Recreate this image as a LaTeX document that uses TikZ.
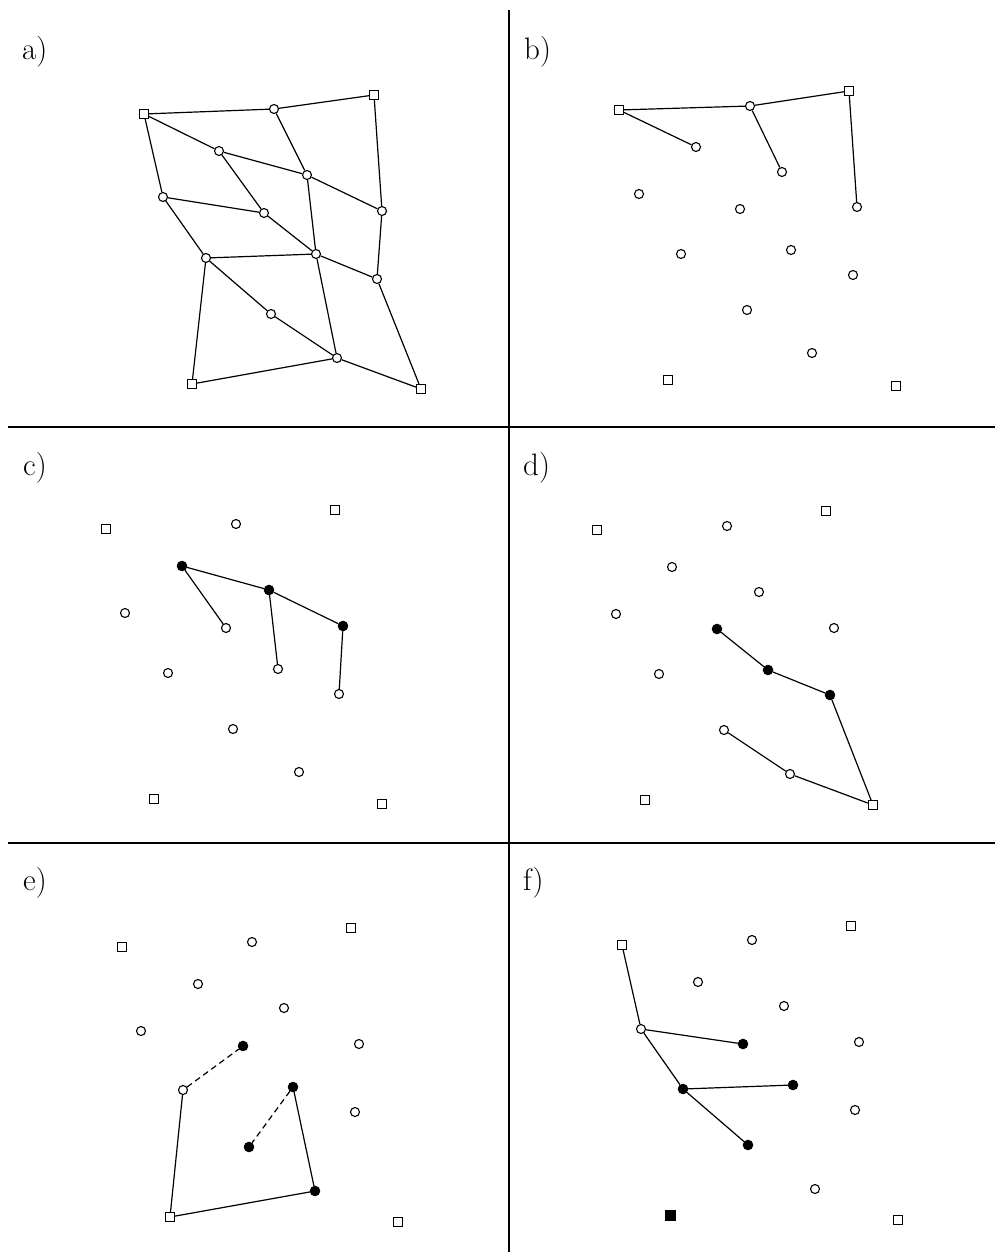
\documentclass[tikz,border=0pt]{standalone}
\begin{document}
\begin{tikzpicture}[x=1pt,y=-1pt,
  oc/.style={circle,draw,fill=white,line width=1.1pt,inner sep=0pt,minimum size=9pt},
  fc/.style={circle,draw,fill=black,line width=1pt,inner sep=0pt,minimum size=9.5pt},
  sq/.style={rectangle,draw,fill=white,line width=1.1pt,inner sep=0pt,minimum size=9pt},
  fsq/.style={rectangle,draw,fill=black,line width=1pt,inner sep=0pt,minimum size=10pt},
  ed/.style={line width=1.2pt},
  dd/.style={line width=1.2pt,dash pattern=on 6pt off 4pt},
  divider/.style={line width=2pt},
  lab/.style={anchor=base west,inner sep=0pt,font=\fontsize{31}{36}\selectfont}]
\path[fill=white] (0,0) rectangle (995,1252);
\useasboundingbox (0,0) rectangle (995,1252);
% dividers
\coordinate (vt) at (509,10);
\coordinate (vb) at (509,1252);
\coordinate (h1l) at (8,427);
\coordinate (h1r) at (995,427);
\coordinate (h2l) at (8,843);
\coordinate (h2r) at (995,843);
\draw[divider] (vt) -- (vb);
\draw[divider] (h1l) -- (h1r);
\draw[divider] (h2l) -- (h2r);
% labels
\node[lab] (la) at (22,60) {a)};
\node[lab] (lb) at (524,60) {b)};
\node[lab] (lc) at (23,475) {c)};
\node[lab] (ld) at (523,475) {d)};
\node[lab] (le) at (23,890) {e)};
\node[lab] (lf) at (523,890) {f)};
% ---------- panel a
\node[sq] (aS1) at (144,114) {};
\node[sq] (aS2) at (374,95) {};
\node[sq] (aS3) at (192,384) {};
\node[sq] (aS4) at (421,389) {};
\node[oc] (a1) at (274,109) {};
\node[oc] (a2) at (219,151) {};
\node[oc] (a3) at (307,175) {};
\node[oc] (a4) at (163,197) {};
\node[oc] (a5) at (264,213) {};
\node[oc] (a6) at (382,211) {};
\node[oc] (a7) at (206,258) {};
\node[oc] (a8) at (316,254) {};
\node[oc] (a9) at (377,279) {};
\node[oc] (a10) at (271,314) {};
\node[oc] (a11) at (337,358) {};
\draw[ed] (aS1)--(a1) (a1)--(aS2) (aS1)--(a2) (a2)--(a3) (a3)--(a6)
  (aS1)--(a4) (a4)--(a5) (a2)--(a5) (a1)--(a3) (a3)--(a8) (a5)--(a8)
  (a8)--(a9) (a6)--(a9) (aS2)--(a6) (a4)--(a7) (a7)--(a8) (a7)--(aS3)
  (a7)--(a10) (a10)--(a11) (a8)--(a11) (a11)--(aS3) (a11)--(aS4) (a9)--(aS4);
% ---------- panel b
\node[sq] (bS1) at (619,110) {};
\node[sq] (bS2) at (849,91) {};
\node[sq] (bS3) at (668,380) {};
\node[sq] (bS4) at (896,386) {};
\node[oc] (b1) at (750,106) {};
\node[oc] (b2) at (696,147) {};
\node[oc] (b3) at (782,172) {};
\node[oc] (b4) at (639,194) {};
\node[oc] (b5) at (740,209) {};
\node[oc] (b6) at (857,207) {};
\node[oc] (b7) at (681,254) {};
\node[oc] (b8) at (791,250) {};
\node[oc] (b9) at (853,275) {};
\node[oc] (b10) at (747,310) {};
\node[oc] (b11) at (812,353) {};
\draw[ed] (bS1)--(b1) (b1)--(bS2) (bS1)--(b2) (b1)--(b3) (bS2)--(b6);
% ---------- panel c
\node[sq] (cS1) at (106,529) {};
\node[sq] (cS2) at (335,510) {};
\node[sq] (cS3) at (154,799) {};
\node[sq] (cS4) at (382,804) {};
\node[oc] (c1) at (236,524) {};
\node[oc] (c2) at (125,613) {};
\node[oc] (c3) at (226,628) {};
\node[oc] (c4) at (168,673) {};
\node[oc] (c5) at (278,669) {};
\node[oc] (c6) at (339,694) {};
\node[oc] (c7) at (233,729) {};
\node[oc] (c8) at (299,772) {};
\node[fc] (cF1) at (182,566) {};
\node[fc] (cF2) at (269,590) {};
\node[fc] (cF3) at (343,626) {};
\draw[ed] (cF1)--(cF2) (cF2)--(cF3) (cF1)--(c3) (cF2)--(c5) (cF3)--(c6);
% ---------- panel d
\node[sq] (dS1) at (597,530) {};
\node[sq] (dS2) at (826,511) {};
\node[sq] (dS3) at (645,800) {};
\node[sq] (dS4) at (873,805) {};
\node[oc] (d1) at (727,526) {};
\node[oc] (d2) at (672,567) {};
\node[oc] (d3) at (759,592) {};
\node[oc] (d4) at (616,614) {};
\node[oc] (d5) at (834,628) {};
\node[oc] (d6) at (659,674) {};
\node[oc] (d7) at (724,730) {};
\node[oc] (d8) at (790,774) {};
\node[fc] (dF1) at (717,629) {};
\node[fc] (dF2) at (768,670) {};
\node[fc] (dF3) at (830,695) {};
\draw[ed] (dF1)--(dF2) (dF2)--(dF3) (dF3)--(dS4) (dS4)--(d8) (d8)--(d7);
% ---------- panel e
\node[sq] (eS1) at (122,947) {};
\node[sq] (eS2) at (351,928) {};
\node[sq] (eS3) at (170,1217) {};
\node[sq] (eS4) at (398,1222) {};
\node[oc] (e1) at (252,942) {};
\node[oc] (e2) at (198,984) {};
\node[oc] (e3) at (284,1008) {};
\node[oc] (e4) at (141,1031) {};
\node[oc] (e5) at (359,1044) {};
\node[oc] (e6) at (183,1090) {};
\node[oc] (e7) at (355,1112) {};
\node[fc] (eF1) at (243,1046) {};
\node[fc] (eF2) at (293,1087) {};
\node[fc] (eF3) at (249,1147) {};
\node[fc] (eF4) at (315,1191) {};
\draw[dd] (e6)--(eF1) (eF2)--(eF3);
\draw[ed] (e6)--(eS3) (eS3)--(eF4) (eF4)--(eF2);
% ---------- panel f
\node[sq] (fS1) at (622,945) {};
\node[sq] (fS2) at (851,926) {};
\node[sq] (fS4) at (898,1220) {};
\node[fsq] (fS3) at (670,1215) {};
\node[oc] (f1) at (752,940) {};
\node[oc] (f2) at (698,982) {};
\node[oc] (f3) at (784,1006) {};
\node[oc] (f4) at (641,1029) {};
\node[oc] (f5) at (859,1042) {};
\node[oc] (f6) at (855,1110) {};
\node[oc] (f7) at (815,1189) {};
\node[fc] (fF1) at (743,1044) {};
\node[fc] (fF2) at (683,1089) {};
\node[fc] (fF3) at (793,1085) {};
\node[fc] (fF4) at (748,1145) {};
\draw[ed] (fS1)--(f4) (f4)--(fF1) (f4)--(fF2) (fF2)--(fF3) (fF2)--(fF4);
\end{tikzpicture}
\end{document}
